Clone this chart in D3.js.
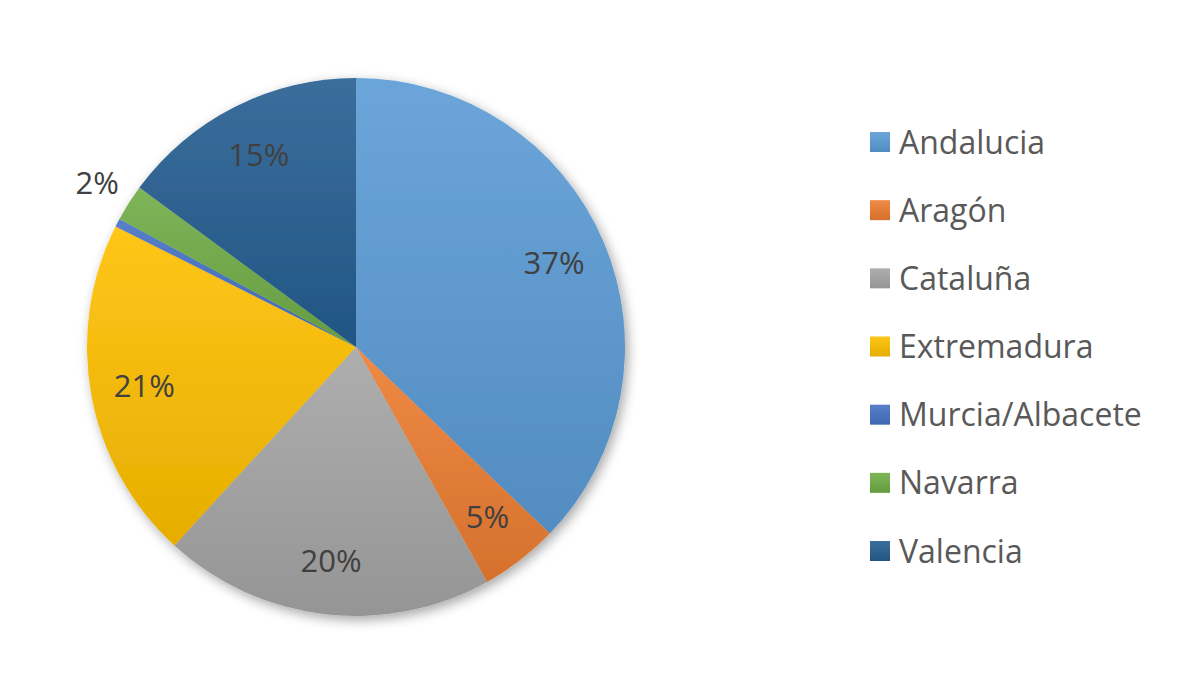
<!DOCTYPE html>
<html>
<head>
<meta charset="utf-8">
<script src="https://cdn.jsdelivr.net/npm/d3@7"></script>
<style>
  body { margin: 0; background: #fff; }
</style>
</head>
<body>
<div id="chart"></div>
<script>
// Data (share of total, %)
var regions = ["Andalucia", "Aragón", "Cataluña", "Extremadura", "Murcia/Albacete", "Navarra", "Valencia"];
var shares = [37.2, 4.7, 19.9, 20.6, 0.5, 2.2, 14.9];
var colors = ["#5b9bd5", "#ed7d31", "#a5a5a5", "#ffc000", "#4472c4", "#70ad47", "#255e91"];

function init() {
    var w = 1200, h = 675;
    var cx = 356, cy = 347, r = 269;

    var svg = d3.select("#chart")
        .append("svg")
        .attr("width", w)
        .attr("height", h);

    var defs = svg.append("defs");

    // soft shadow under the pie
    var shadow = defs.append("filter")
        .attr("id", "shadow")
        .attr("x", "-20%").attr("y", "-20%")
        .attr("width", "140%").attr("height", "140%");
    shadow.append("feDropShadow")
        .attr("dx", 3).attr("dy", 4)
        .attr("stdDeviation", 6)
        .attr("flood-color", "#000")
        .attr("flood-opacity", 0.35);

    // one vertical gradient per colour: lighter on top, darker at bottom
    colors.forEach(function(c, i) {
        var g = defs.append("linearGradient")
            .attr("id", "grad" + i)
            .attr("x1", 0).attr("y1", 0)
            .attr("x2", 0).attr("y2", 1);
        g.append("stop").attr("offset", "0%")
            .attr("stop-color", d3.interpolateRgb(c, "#fff")(0.1));
        g.append("stop").attr("offset", "100%")
            .attr("stop-color", d3.interpolateRgb(c, "#000")(0.1));
    });

    var pie = d3.pie().sort(null).value(function(d) { return d; });
    var arcs = pie(shares);

    var arc = d3.arc().innerRadius(0).outerRadius(r);
    var labelArc = d3.arc().innerRadius(r * 0.8).outerRadius(r * 0.8);
    var outerArc = d3.arc().innerRadius(r * 1.14).outerRadius(r * 1.14);

    var g = svg.append("g")
        .attr("transform", "translate(" + cx + "," + cy + ")");

    g.append("g")
        .attr("filter", "url(#shadow)")
        .selectAll("path")
        .data(arcs)
        .enter()
        .append("path")
        .attr("d", arc)
        .attr("fill", function(d, i) { return "url(#grad" + i + ")"; });

    // percentage labels (tiny slice has none, small ones sit outside)
    g.selectAll("text.pct")
        .data(arcs.filter(function(d) { return d.data >= 1; }))
        .enter()
        .append("text")
        .attr("class", "pct")
        .attr("transform", function(d) {
            var p = d.data < 3 ? outerArc.centroid(d) : labelArc.centroid(d);
            return "translate(" + p + ")";
        })
        .attr("text-anchor", "middle")
        .attr("dy", "0.35em")
        .attr("font-family", "'Open Sans', sans-serif")
        .attr("font-size", "31px")
        .attr("fill", "#404040")
        .text(function(d) { return Math.round(d.data) + "%"; });

    // legend
    var legendY = d3.scalePoint()
        .domain(regions)
        .range([142, 551]);

    var legend = svg.append("g")
        .selectAll("g")
        .data(regions)
        .enter()
        .append("g")
        .attr("transform", function(d) { return "translate(870," + legendY(d) + ")"; });

    legend.append("rect")
        .attr("x", 0)
        .attr("y", -10)
        .attr("width", 20)
        .attr("height", 20)
        .attr("fill", function(d, i) { return "url(#grad" + i + ")"; });

    legend.append("text")
        .attr("x", 29)
        .attr("dy", "0.36em")
        .attr("font-family", "'Open Sans', sans-serif")
        .attr("font-size", "32px")
        .attr("fill", "#595959")
        .text(function(d) { return d; });
}

window.onload = init;
</script>
</body>
</html>
